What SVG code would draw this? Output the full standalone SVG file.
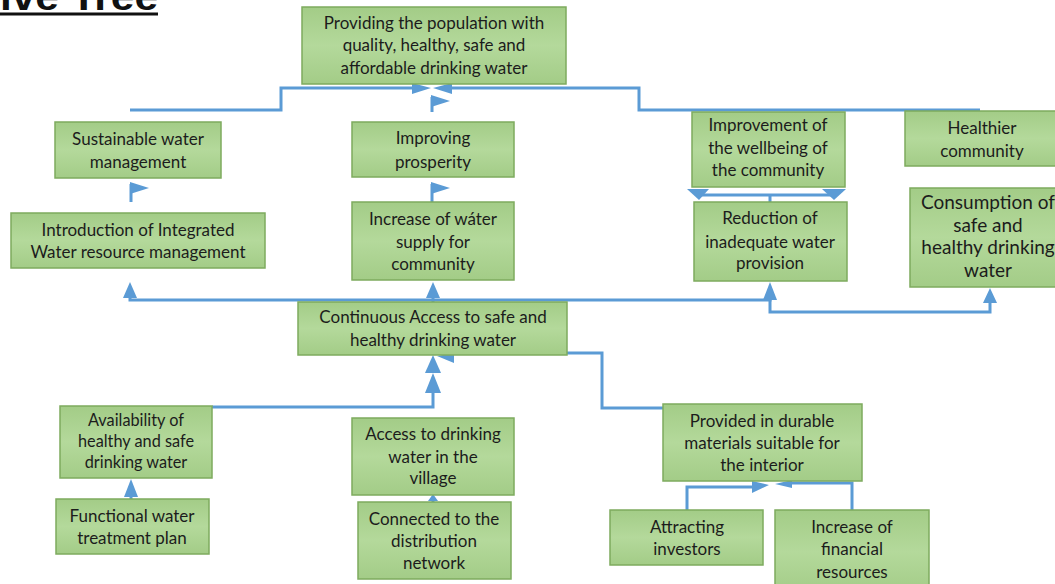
<svg xmlns="http://www.w3.org/2000/svg" width="1055" height="584" viewBox="0 0 1055 584">
<defs>
<linearGradient id="g" x1="0" y1="0" x2="0" y2="1">
<stop offset="0" stop-color="#a3cc87"/>
<stop offset="0.5" stop-color="#b4d99b"/>
<stop offset="1" stop-color="#a3cc87"/>
</linearGradient>
<style>
.box{fill:url(#g);stroke:#7eab5e;stroke-width:1.5}
.t{font-family:Lato,"Carlito","Liberation Sans",sans-serif;font-size:17px;fill:#1c1c1c;text-anchor:middle}
.big{font-size:19px}
.sm{font-size:16.3px}
.cn{fill:none;stroke:#5b9bd5;stroke-width:3}
.ah{fill:#5b9bd5;stroke:none}
</style>
</defs>
<rect width="1055" height="584" fill="#ffffff"/>
<text x="0" y="10" font-family="Liberation Sans, Arial, sans-serif" font-weight="bold" font-size="38" fill="#111" textLength="158" lengthAdjust="spacingAndGlyphs">ive Tree</text>
<rect x="0" y="12.5" width="158" height="3" fill="#111"/>

<g id="connectors">
<path class="cn" d="M130,110 H281 V88 H414"/>
<polygon class="ah" points="412,83 431,88 412,94"/>
<path class="cn" d="M980,110 H639 V88 H452"/>
<polygon class="ah" points="452,83 433,88 452,94"/>
<path class="cn" d="M432,112 V97"/>
<polygon class="ah" points="431,95 450,101 431,107"/>
<path class="cn" d="M131,202 V184"/>
<polygon class="ah" points="130,182 149,188 130,194"/>
<path class="cn" d="M432,202 V184"/>
<polygon class="ah" points="431,182 450,188 431,194"/>
<path class="cn" d="M130,298 V300 H770 V298"/>
<path class="cn" d="M433,302 V296"/>
<polygon class="ah" points="123,298 130,282 137,298"/>
<polygon class="ah" points="426,298 433,282 440,298"/>
<polygon class="ah" points="763,300 770,282 777,300"/>
<path class="cn" d="M770,300 V312 H990 V302"/>
<polygon class="ah" points="983,303 990,288 997,303"/>
<path class="cn" d="M698,195 H834 M770,195 V202"/>
<polygon class="ah" points="687,189 709,189 699,200"/>
<polygon class="ah" points="822,189 846,189 834,200"/>
<path class="cn" d="M212,407 H433 V392"/>
<polygon class="ah" points="425,393 433,373 441,393"/>
<polygon class="ah" points="425,373 433,355 441,373"/>
<path class="cn" d="M663,408 H602 V353 H452"/>
<polygon class="ah" points="437,356 454,353 454,363"/>
<path class="cn" d="M433,502 V498"/>
<polygon class="ah" points="428,501 433,494 438,501"/>
<path class="cn" d="M131,499 V495"/>
<polygon class="ah" points="124,497 131,479 138,497"/>
<path class="cn" d="M687,510 V487 H754"/>
<polygon class="ah" points="752,481 769,485 752,493"/>
<path class="cn" d="M852,510 V483 H790"/>
<polygon class="ah" points="775,484 792,480 792,488"/>
</g>

<g id="n-goal">
<rect class="box" x="302" y="7" width="264" height="77"/>
<text class="t"><tspan x="434" y="29">Providing the population with</tspan><tspan x="434" y="51">quality, healthy, safe and</tspan><tspan x="434" y="74">affordable drinking water</tspan></text>
</g>
<g id="n-sustainable">
<rect class="box" x="55" y="122" width="166" height="56"/>
<text class="t"><tspan x="138" y="145">Sustainable water</tspan><tspan x="138" y="168">management</tspan></text>
</g>
<g id="n-prosperity">
<rect class="box" x="352" y="122" width="162" height="55"/>
<text class="t"><tspan x="433" y="144">Improving</tspan><tspan x="433" y="168">prosperity</tspan></text>
</g>
<g id="n-wellbeing">
<rect class="box" x="692" y="112" width="153" height="75"/>
<text class="t"><tspan x="768" y="131">Improvement of</tspan><tspan x="768" y="154">the wellbeing of</tspan><tspan x="768" y="176">the community</tspan></text>
</g>
<g id="n-healthier">
<rect class="box" x="905" y="111" width="160" height="55"/>
<text class="t"><tspan x="982" y="134">Healthier</tspan><tspan x="982" y="157">community</tspan></text>
</g>
<g id="n-iwrm">
<rect class="box" x="11" y="213" width="254" height="55"/>
<text class="t"><tspan x="138" y="236">Introduction of Integrated</tspan><tspan x="138" y="258">Water resource management</tspan></text>
</g>
<g id="n-supply">
<rect class="box" x="352" y="202" width="162" height="78"/>
<text class="t"><tspan x="433" y="225">Increase of wáter</tspan><tspan x="433" y="248">supply for</tspan><tspan x="433" y="270">community</tspan></text>
</g>
<g id="n-reduction">
<rect class="box" x="694" y="202" width="153" height="79"/>
<text class="t"><tspan x="770" y="224">Reduction of</tspan><tspan x="770" y="248">inadequate water</tspan><tspan x="770" y="269">provision</tspan></text>
</g>
<g id="n-consumption">
<rect class="box" x="910" y="188" width="160" height="99"/>
<text class="t big"><tspan x="988" y="209">Consumption of</tspan><tspan x="988" y="232">safe and</tspan><tspan x="988" y="254">healthy drinking</tspan><tspan x="988" y="277">water</tspan></text>
</g>
<g id="n-continuous">
<rect class="box" x="298" y="302" width="269" height="53"/>
<text class="t"><tspan x="433" y="323">Continuous Access to safe and</tspan><tspan x="433" y="346">healthy drinking water</tspan></text>
</g>
<g id="n-availability">
<rect class="box" x="60" y="406" width="152" height="72"/>
<text class="t sm"><tspan x="136" y="426">Availability of</tspan><tspan x="136" y="447">healthy and safe</tspan><tspan x="136" y="468">drinking water</tspan></text>
</g>
<g id="n-functional">
<rect class="box" x="56" y="499" width="153" height="55"/>
<text class="t"><tspan x="132" y="522">Functional water</tspan><tspan x="132" y="544">treatment plan</tspan></text>
</g>
<g id="n-access">
<rect class="box" x="352" y="418" width="162" height="77"/>
<text class="t"><tspan x="433" y="440">Access to drinking</tspan><tspan x="433" y="463">water in the</tspan><tspan x="433" y="484">village</tspan></text>
</g>
<g id="n-connected">
<rect class="box" x="358" y="502" width="153" height="77"/>
<text class="t"><tspan x="434" y="525">Connected to the</tspan><tspan x="434" y="547">distribution</tspan><tspan x="434" y="569">network</tspan></text>
</g>
<g id="n-durable">
<rect class="box" x="663" y="404" width="199" height="77"/>
<text class="t"><tspan x="762" y="427">Provided in durable</tspan><tspan x="762" y="449">materials suitable for</tspan><tspan x="762" y="471">the interior</tspan></text>
</g>
<g id="n-investors">
<rect class="box" x="610" y="510" width="153" height="55"/>
<text class="t"><tspan x="687" y="533">Attracting</tspan><tspan x="687" y="555">investors</tspan></text>
</g>
<g id="n-financial">
<rect class="box" x="775" y="510" width="154" height="84"/>
<text class="t"><tspan x="852" y="533">Increase of</tspan><tspan x="852" y="555">financial</tspan><tspan x="852" y="578">resources</tspan></text>
</g>
</svg>
